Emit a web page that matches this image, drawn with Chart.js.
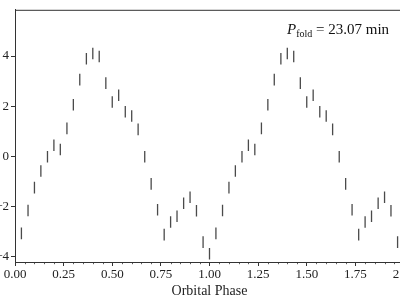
<!DOCTYPE html>
<html>
<head>
<meta charset="utf-8">
<script src="https://cdn.jsdelivr.net/npm/chart.js@4/dist/chart.umd.min.js"></script>
<style>
  html, body { margin: 0; padding: 0; background: #fff; }
  #wrap { position: relative; width: 400px; height: 300px; overflow: hidden; }
  #c { position: absolute; left: 0; top: 0; }
  #label { position: absolute; left: 287px; top: 22px; font-family: 'Liberation Serif', serif; font-size: 15px; line-height: 15px; color: #111; white-space: nowrap; }
  #label sub { font-size: 10px; position: relative; top: 3px; vertical-align: baseline; }
</style>
</head>
<body>
<div id="wrap">
  <canvas id="c" width="430" height="300"></canvas>
  <div id="label"><i>P</i><sub>fold</sub> = 23.07 min</div>
</div>
<script>
// Folded light curve: phase bins and magnitudes (first cycle and repeated cycle)
const phaseCycle1 = [0.033,0.067,0.100,0.133,0.167,0.200,0.233,0.267,0.300,0.333,
                     0.367,0.400,0.433,0.467,0.500,0.533,0.567,0.600,0.633,0.667,
                     0.700,0.733,0.767,0.800,0.833,0.867,0.900,0.933,0.967,1.000];
const phaseCycle2 = [1.033,1.067,1.100,1.133,1.167,1.200,1.233,1.267,1.300,1.333,
                     1.367,1.400,1.433,1.467,1.500,1.533,1.567,1.600,1.633,1.667,
                     1.700,1.733,1.767,1.800,1.833,1.867,1.900,1.933,1.967,2.000];
const fluxValues = [-3.06,-2.15,-1.24,-0.58,-0.01,0.45,0.28,1.12,2.06,3.06,
                    3.89,4.10,3.98,2.92,2.17,2.44,1.78,1.61,1.08,-0.01,
                    -1.09,-2.12,-3.11,-2.61,-2.38,-1.86,-1.62,-2.16,-3.41,-3.87];
const xTickValues = [0,0.25,0.5,0.75,1.0,1.25,1.5,1.75,2.0];
const yTickValues = [-4,-2,0,2,4];

const points = phaseCycle1.map((p,i)=>({x:p,y:fluxValues[i]}))
  .concat(phaseCycle2.map((p,i)=>({x:p,y:fluxValues[i]})));

Chart.defaults.font.family = "'Liberation Serif', serif";
Chart.defaults.color = '#222';

const framePlugin = {
  id: 'frame',
  afterDatasetsDraw(chart) {
    const a = chart.chartArea, ctx = chart.ctx;
    ctx.save();
    ctx.strokeStyle = '#333';
    ctx.lineWidth = 1;
    ctx.strokeRect(a.left + 0.5, a.top + 0.5, a.right - a.left, a.bottom - a.top);
    ctx.restore();
  },
  afterDraw(chart) {
    const xs = chart.scales.x, a = chart.chartArea, ctx = chart.ctx;
    ctx.save();
    ctx.strokeStyle = '#333';
    ctx.lineWidth = 0.8;
    for (let k = 0; k <= 40; k++) {
      if (k % 5 === 0) continue;
      const px = Math.round(xs.getPixelForValue(k * 0.05)) + 0.5;
      ctx.beginPath();
      ctx.moveTo(px, a.bottom);
      ctx.lineTo(px, a.bottom + 2.2);
      ctx.stroke();
    }
    ctx.restore();
  }
};

new Chart(document.getElementById('c'), {
  type: 'scatter',
  data: {
    datasets: [{
      data: points,
      pointStyle: 'line',
      rotation: 90,
      radius: 5.8,
      hoverRadius: 5.8,
      borderWidth: 1.3,
      borderColor: '#4a4a4a',
      backgroundColor: '#4a4a4a'
    }]
  },
  options: {
    responsive: false,
    animation: false,
    devicePixelRatio: 1,
    layout: { padding: { top: 8, right: 26, left: 0, bottom: 0 } },
    plugins: { legend: { display: false }, tooltip: { enabled: false } },
    scales: {
      x: {
        type: 'linear',
        min: 0, max: 2,
        afterFit: s => { s.height = 38; },
        afterBuildTicks: s => { s.ticks = xTickValues.map(v => ({value: v})); },
        ticks: {
          padding: 1,
          maxRotation: 0,
          autoSkip: false,
          font: { size: 13 },
          callback: v => Number(v).toFixed(2)
        },
        grid: { display: true, drawOnChartArea: false, drawTicks: true, tickLength: 4, color: '#333' },
        border: { display: true, color: '#333', width: 1 },
        title: { display: true, text: 'Orbital Phase', font: { size: 14 }, padding: { top: 0, bottom: 0 } }
      },
      y: {
        type: 'linear',
        min: -4.2, max: 5.84,
        afterFit: s => { s.width = 15; },
        afterBuildTicks: s => { s.ticks = yTickValues.map(v => ({value: v})); },
        ticks: {
          padding: 2,
          autoSkip: false,
          font: { size: 13 },
          callback: v => (v < 0 ? '\u2212' + Math.abs(v) : String(v))
        },
        grid: { display: true, drawOnChartArea: false, drawTicks: true, tickLength: 4, color: '#333' },
        border: { display: true, color: '#333', width: 1 }
      }
    }
  },
  plugins: [framePlugin]
});
</script>
</body>
</html>
